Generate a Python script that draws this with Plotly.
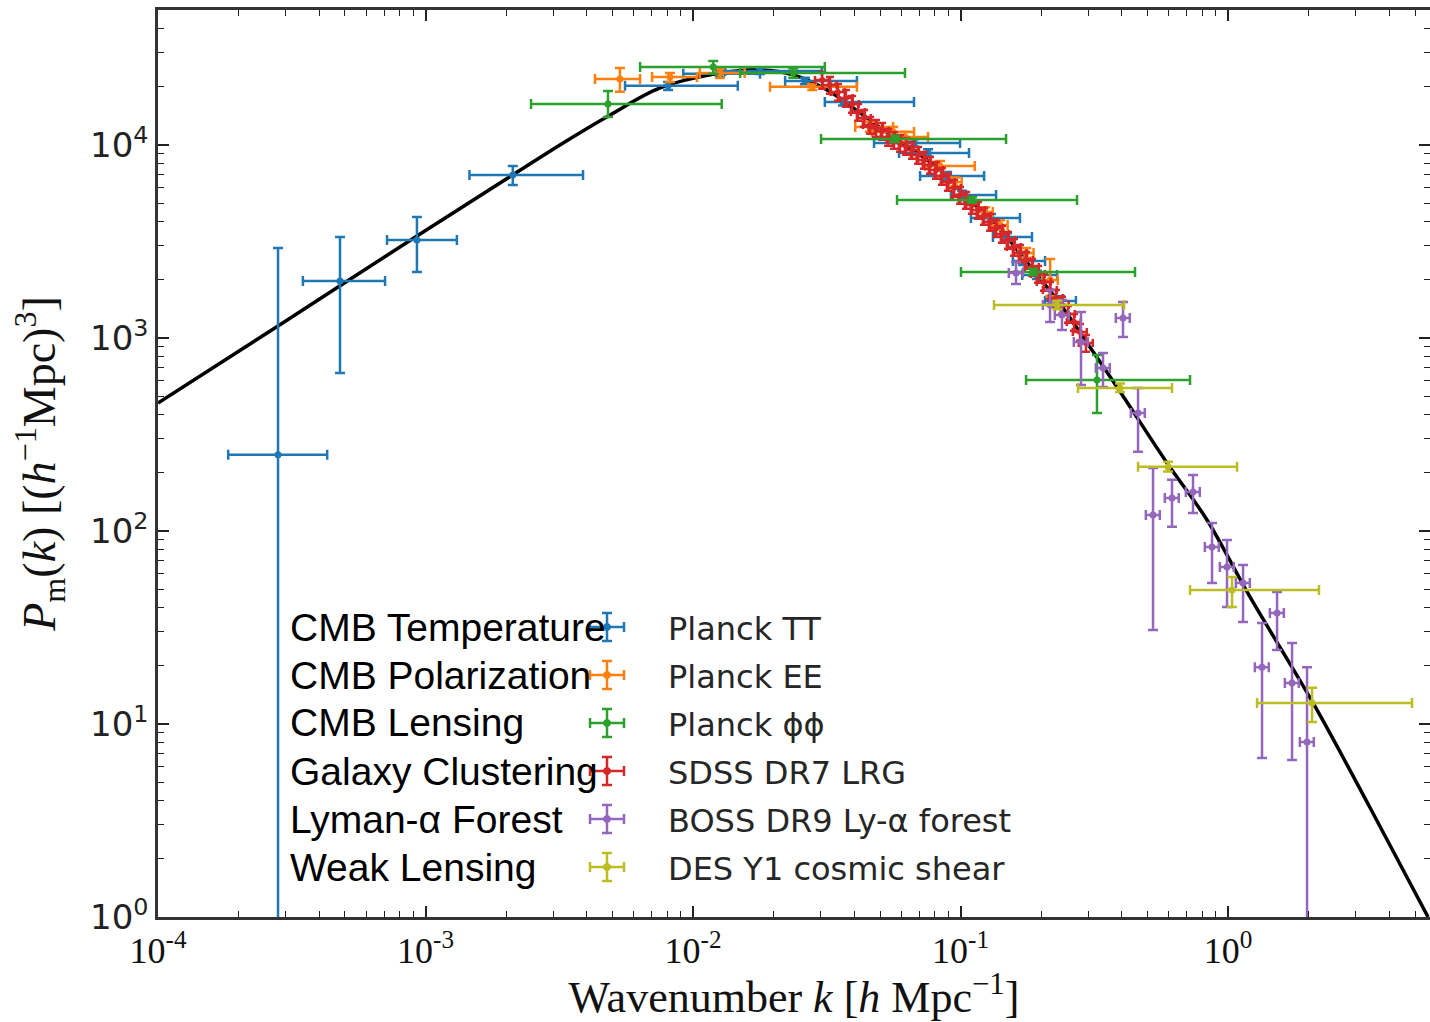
import plotly.graph_objects as go

# ---------------- data ----------------
curve_k = [1e-4, 2.81e-4, 9.29e-4, 2.12e-3, 3.18e-3, 4.90e-3, 7.53e-3, 1.158e-2, 1.78e-2, 2.37e-2,
           3.17e-2, 4.21e-2, 5.60e-2, 7.50e-2, 8.60e-2, 0.1085, 0.1441, 0.1866, 0.2296, 0.287,
           0.3846, 0.5916, 0.8347, 1.208, 2.079, 3.40, 5.595]
curve_P = [460, 1154, 3376, 6995, 10000, 14300, 19730, 23060, 24480, 23060,
           19280, 14650, 11000, 8360, 7160, 5190, 3500, 2250, 1574, 1012,
           557, 225, 114, 45.5, 12.85, 3.67, 1.0]

# Planck TT
tt_k   = [2.81e-4, 4.79e-4, 9.29e-4, 2.12e-3, 8.07e-3, 1.26e-2, 1.78e-2, 2.62e-2, 3.64e-2, 6.70e-2,
          7.56e-2, 8.91e-2, 0.1014, 0.130, 0.1493, 0.1714, 0.193, 0.2355]
tt_P   = [248, 1973, 3220, 6995, 20230, 23340, 24170, 21460, 16700, 10240,
          9090, 6910, 5510, 4188, 3336, 2506, 2120, 1555]
tt_klo = [1.83e-4, 3.48e-4, 7.18e-4, 1.46e-3, 5.57e-3, 9.2e-3, 1.32e-2, 2.21e-2, 3.11e-2, 4.75e-2,
          5.89e-2, 7.06e-2, 9.21e-2, 0.1094, 0.1322, 0.157, 0.170, 0.207]
tt_khi = [4.29e-4, 7.06e-4, 1.31e-3, 3.88e-3, 1.47e-2, 1.78e-2, 3.03e-2, 4.10e-2, 6.70e-2, 9.96e-2,
          0.1076, 0.1225, 0.1358, 0.1668, 0.185, 0.207, 0.2296, 0.270]
tt_Plo = [0.5, 659, 2198, 6208, 19280, 22500, 23300, 20600, 16000, 9800,
          8700, 6600, 5250, 4000, 3180, 2390, 2020, 1470]
tt_Phi = [2925, 3336, 4236, 7780, 21200, 24200, 25100, 22300, 17400, 10700,
          9500, 7250, 5780, 4390, 3500, 2630, 2230, 1650]

# Planck EE
ee_k   = [5.33e-3, 8.20e-3, 1.26e-2, 2.79e-2, 4.59e-2, 5.60e-2, 6.21e-2, 8.38e-2, 9.53e-2, 0.1236, 0.1406, 0.176, 0.2163]
ee_P   = [21980, 22500, 23600, 19990, 12400, 11670, 11000, 7780, 6430, 4498, 3849, 2755, 1998]
ee_klo = [4.30e-3, 7.03e-3, 1.06e-2, 1.94e-2, 4.04e-2, 4.67e-2, 5.45e-2, 7.38e-2, 9.0e-2, 0.115, 0.131, 0.1645, 0.2025]
ee_khi = [6.34e-3, 1.035e-2, 1.56e-2, 4.10e-2, 5.60e-2, 6.70e-2, 7.56e-2, 0.113, 0.101, 0.132, 0.150, 0.1875, 0.231]
ee_Plo = [18830, 21200, 22230, 19280, 11700, 11000, 10400, 7350, 6100, 4260, 3640, 2600, 1651]
ee_Phi = [25060, 23600, 24770, 20700, 13200, 12400, 11700, 8250, 6780, 4750, 4070, 2920, 2566]

# Planck phi-phi
pp_k   = [4.81e-3, 1.19e-2, 2.37e-2, 5.69e-2, 0.1104, 0.1866, 0.3237]
pp_P   = [16310, 25360, 23600, 10740, 5190, 2198, 606]
pp_klo = [2.48e-3, 6.34e-3, 1.50e-2, 3.01e-2, 5.79e-2, 0.1004, 0.1758]
pp_khi = [1.28e-2, 3.11e-2, 6.20e-2, 0.148, 0.2726, 0.449, 0.721]
pp_Plo = [13960, 23340, 22300, 10370, 5010, 2120, 408]
pp_Phi = [19050, 27230, 24900, 11140, 5380, 2280, 816]

# SDSS DR7 LRG
lrg_k = [0.0304, 0.0325, 0.0348, 0.0373, 0.0393, 0.0414, 0.0436, 0.0459, 0.0483, 0.0509,
         0.0536, 0.0564, 0.0594, 0.0626, 0.0659, 0.0694, 0.0730, 0.0769, 0.0810, 0.0853,
         0.0898, 0.0946, 0.0996, 0.1049, 0.1104, 0.1163, 0.1224, 0.1289, 0.1358, 0.1429,
         0.1505, 0.1585, 0.1669, 0.1758, 0.1850, 0.1949, 0.2051, 0.2161, 0.2275, 0.2395,
         0.2522, 0.2656, 0.2797, 0.2944]
lrg_P = [21700, 20460, 18820, 17520, 16310, 14830, 13800, 12690, 12250, 11820,
         11000, 10620, 10240, 9880, 9420, 8875, 8360, 7880, 7420, 6910,
         6430, 5990, 5510, 5190, 4890, 4605, 4287, 3990, 3715, 3459,
         3220, 2961, 2756, 2536, 2333, 2146, 1951, 1774, 1612, 1483,
         1332, 1211, 1074, 942]

# BOSS DR9 Ly-alpha forest
lya_k   = [0.1612, 0.2161, 0.2395, 0.2821, 0.3409, 0.4049, 0.4609, 0.5244, 0.6173,
           0.7398, 0.8713, 0.9914, 1.138, 1.340, 1.525, 1.735, 1.974]
lya_P   = [2172, 1483, 1316, 953, 699, 1270, 408, 121, 148,
           159, 82.6, 65.1, 53.8, 19.7, 37.6, 16.3, 8.07]
lya_Plo = [1905, 1211, 1100, 571, 557, 1012, 257, 30.7, 105,
           124, 53.8, 40.4, 33.8, 6.67, 24.2, 6.51, 0.5]
lya_Phi = [2476, 1774, 1574, 1364, 836, 1537, 551, 212, 184,
           195, 110, 89.8, 66.6, 33.4, 48.3, 26.3, 19.7]

# DES Y1 cosmic shear
des_k   = [0.2296, 0.3947, 0.5966, 1.035, 2.061]
des_P   = [1483, 551, 215, 49.5, 12.85]
des_klo = [0.1334, 0.2749, 0.4609, 0.721, 1.284]
des_khi = [0.4085, 0.6173, 1.081, 2.188, 4.874]
des_Plo = [1410, 525, 203, 40.4, 10.24]
des_Phi = [1560, 580, 228, 57.8, 15.4]

probe_labels = ["CMB Temperature", "CMB Polarization", "CMB Lensing",
                "Galaxy Clustering", "Lyman-\u03b1 Forest", "Weak Lensing"]
survey_labels = ["Planck TT", "Planck EE", "Planck \u03d5\u03d5",
                 "SDSS DR7 LRG", "BOSS DR9 Ly-\u03b1 forest", "DES Y1 cosmic shear"]
colors = ["#1f77b4", "#ff7f0e", "#2ca02c", "#d62728", "#9467bd", "#bcbd22"]

x_tickvals = [1e-4, 1e-3, 1e-2, 1e-1, 1e0]
x_ticktext = ["10<sup>-4</sup>", "10<sup>-3</sup>", "10<sup>-2</sup>", "10<sup>-1</sup>", "10<sup>0</sup>"]
y_tickvals = [1e0, 1e1, 1e2, 1e3, 1e4]
y_ticktext = ["10<sup>0</sup>", "10<sup>1</sup>", "10<sup>2</sup>", "10<sup>3</sup>", "10<sup>4</sup>"]

# ---------------- figure ----------------
W, H = 1430, 1022
ML, MR, MT, MB = 158, 0, 10, 105
PW, PH = W - ML - MR, H - MT - MB

fig = go.Figure()

fig.add_trace(go.Scatter(x=curve_k, y=curve_P, mode="lines",
                         line=dict(color="black", width=3.5, shape="spline", smoothing=1.0),
                         hoverinfo="skip", showlegend=False))

ETH = 2.5


def add_series(k, P, klo, khi, Plo, Phi, color):
    fig.add_trace(go.Scatter(
        x=k, y=P, mode="markers",
        marker=dict(color=color, size=7),
        error_x=dict(type="data", symmetric=False,
                     array=[h - v for h, v in zip(khi, k)],
                     arrayminus=[v - l for l, v in zip(klo, k)],
                     color=color, thickness=ETH, width=5),
        error_y=dict(type="data", symmetric=False,
                     array=[h - v for h, v in zip(Phi, P)],
                     arrayminus=[v - l for l, v in zip(Plo, P)],
                     color=color, thickness=ETH, width=5),
        showlegend=False))


add_series(tt_k, tt_P, tt_klo, tt_khi, tt_Plo, tt_Phi, colors[0])
add_series(ee_k, ee_P, ee_klo, ee_khi, ee_Plo, ee_Phi, colors[1])

fig.add_trace(go.Scatter(
    x=lrg_k, y=lrg_P, mode="markers", marker=dict(color=colors[3], size=6),
    error_x=dict(type="percent", value=6, color=colors[3], thickness=ETH, width=4),
    error_y=dict(type="percent", value=10, color=colors[3], thickness=ETH, width=4),
    showlegend=False))

add_series(pp_k, pp_P, pp_klo, pp_khi, pp_Plo, pp_Phi, colors[2])

fig.add_trace(go.Scatter(
    x=lya_k, y=lya_P, mode="markers", marker=dict(color=colors[4], size=7),
    error_x=dict(type="percent", value=6, color=colors[4], thickness=ETH, width=5),
    error_y=dict(type="data", symmetric=False,
                 array=[h - v for h, v in zip(lya_Phi, lya_P)],
                 arrayminus=[v - l for l, v in zip(lya_Plo, lya_P)],
                 color=colors[4], thickness=ETH, width=5),
    showlegend=False))

add_series(des_k, des_P, des_klo, des_khi, des_Plo, des_Phi, colors[5])


# ---------------- hand-drawn legend ----------------
def xp(px):
    return (px - ML) / PW


def yp(py):
    return (MT + PH - py) / PH


row_y = [627, 675, 723, 771, 819, 867]
shapes = []
annotations = []
for i in range(6):
    cy = row_y[i]
    annotations.append(dict(x=xp(288), y=yp(cy), xref="paper", yref="paper", xanchor="left",
                            yanchor="middle", showarrow=False, text=probe_labels[i],
                            font=dict(family="Liberation Sans, Arial", size=39, color="black")))
    annotations.append(dict(x=xp(666), y=yp(cy + 2), xref="paper", yref="paper", xanchor="left",
                            yanchor="middle", showarrow=False, text=survey_labels[i],
                            font=dict(family="DejaVu Sans", size=32, color="#262626")))
    cx, c = 607, colors[i]
    segs = [((cx - 17, cy), (cx + 17, cy)), ((cx, cy - 14), (cx, cy + 14)),
            ((cx - 5, cy - 14), (cx + 5, cy - 14)), ((cx - 5, cy + 14), (cx + 5, cy + 14)),
            ((cx - 17, cy - 5), (cx - 17, cy + 5)), ((cx + 17, cy - 5), (cx + 17, cy + 5))]
    for (a, b) in segs:
        shapes.append(dict(type="line", xref="paper", yref="paper",
                           x0=xp(a[0]), y0=yp(a[1]), x1=xp(b[0]), y1=yp(b[1]),
                           line=dict(color=c, width=2.5)))
    shapes.append(dict(type="circle", xref="paper", yref="paper",
                       x0=xp(cx - 3.5), x1=xp(cx + 3.5), y0=yp(cy - 3.5), y1=yp(cy + 3.5),
                       fillcolor=c, line=dict(color=c, width=1)))

x_minor = [m * 10 ** e for e in range(-4, 1) for m in range(2, 10)]
y_minor = [m * 10 ** e for e in range(0, 5) for m in range(2, 10)]

axis_common = dict(type="log", showgrid=False, zeroline=False, showline=True,
                   linecolor="#333333", linewidth=2.5, mirror="allticks",
                   ticks="inside", ticklen=11, tickwidth=1.5, tickcolor="#222222")

fig.update_layout(
    width=W, height=H,
    margin=dict(l=ML, r=MR, t=MT, b=MB, autoexpand=False),
    paper_bgcolor="white", plot_bgcolor="white",
    shapes=shapes, annotations=annotations,
    xaxis=dict(**axis_common, range=[-4, 0.755], tickmode="array",
               tickvals=x_tickvals, ticktext=x_ticktext,
               minor=dict(tickmode="array", tickvals=x_minor, ticks="inside", ticklen=6,
                          tickwidth=1.2, tickcolor="#222222"),
               tickfont=dict(family="Liberation Serif", size=36, color="#111111"),
               title=dict(text="Wavenumber <i>k</i> [<i>h</i> Mpc<sup>\u22121</sup>]",
                          font=dict(family="Liberation Serif", size=44, color="#111111"),
                          standoff=8)),
    yaxis=dict(**axis_common, range=[0, 4.699], tickmode="array",
               tickvals=y_tickvals, ticktext=y_ticktext,
               minor=dict(tickmode="array", tickvals=y_minor, ticks="inside", ticklen=6,
                          tickwidth=1.2, tickcolor="#222222"),
               tickfont=dict(family="DejaVu Sans", size=34, color="#222222"),
               title=dict(text="<i>P</i><sub>m</sub>(<i>k</i>) [(<i>h</i><sup>\u22121</sup>Mpc)<sup>3</sup>]",
                          font=dict(family="Liberation Serif", size=46, color="#111111"),
                          standoff=20)),
)

fig.write_html("out.html", config={"displayModeBar": False},
               post_script="document.body.style.margin='0';document.body.style.overflow='hidden';")
